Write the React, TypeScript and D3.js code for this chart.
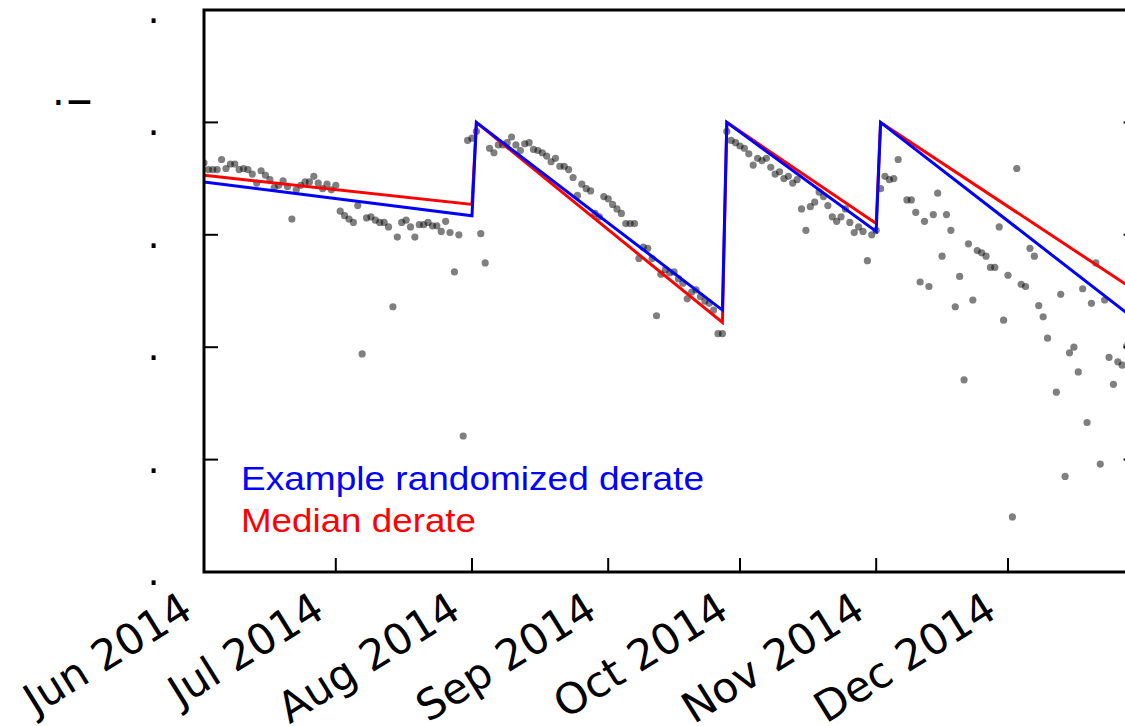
import React from "react";
import * as d3 from "d3";

// ---- data ----
const startDate = new Date(Date.UTC(2014, 5, 1));
const endDate = new Date(Date.UTC(2014, 11, 30, 12));

// daily observations, index = days since 1 Jun 2014 (null = missing)
const observedValues: (number | null)[] = [
  3.64, 3.58, 3.58, 3.58, 3.67, 3.59, 3.63, 3.63, 3.58, 3.59,
  3.58, 3.54, 3.46, 3.57, 3.53, 3.49, 3.42, 3.44, 3.48, 3.43,
  3.14, 3.40, 3.44, 3.47, 3.47, 3.52, 3.46, 3.41, 3.45, 3.40,
  3.44, 3.21, 3.17, 3.14, 3.11, 3.26, 1.94, 3.15, 3.16, 3.13,
  3.11, 3.11, 3.07, 2.36, 2.98, 3.11, 3.13, 3.07, 2.98, 3.09,
  3.09, 3.11, 3.08, 3.08, 3.03, 3.12, 3.02, 2.67, 3.00, 1.21,
  3.84, 3.86, 3.92, 3.01, 2.75, 3.77, 3.73, 3.80, 3.80, 3.82,
  3.87, 3.80, 3.75, 3.81, 3.82, 3.76, 3.75, 3.73, 3.70, 3.65,
  3.68, 3.61, 3.61, 3.58, 3.51, 3.35, 3.45, 3.41, 3.39, 3.19,
  3.16, 3.34, 3.32, 3.27, 3.23, 3.19, 3.10, 3.10, 3.10, 2.79,
  2.89, 2.88, 2.79, 2.28, 2.65, 2.69, 2.66, 2.67, 2.61, 2.57,
  2.43, 2.49, 2.51, 2.45, 2.41, 2.39, 2.33, 2.12, 2.12, 3.92,
  3.84, 3.82, 3.79, 3.77, 3.72, 3.62, 3.68, 3.66, 3.68, 3.60,
  3.54, 3.56, 3.50, 3.52, 3.46, 3.49, 3.23, 3.04, 3.25, 3.29,
  3.38, 3.34, 3.26, 3.16, 3.12, 3.16, 3.23, 3.11, 3.02, 3.07,
  3.03, 2.77, 3.00, 3.04, 3.41, 3.52, 3.49, 3.50, 3.67, null,
  3.31, 3.31, 3.20, 2.58, 3.12, 2.54, 3.18, 3.37, 2.81, 3.18,
  3.04, 2.36, 2.63, 1.71, 2.92, 2.42, 2.86, 2.84, 2.81, 2.71,
  2.71, 3.07, 2.24, 2.64, 0.49, 3.59, 2.56, 2.54, 2.88, 2.81,
  2.37, 2.27, 2.08, null, 1.60, 2.47, 0.85, 1.95, 2.00, 1.78,
  2.52, 1.33, 2.39, 2.75, 0.96, 2.42, 1.91, 1.67, 1.87, 1.84,
  2.01,
];

// derate curves: breakpoints in days since 1 Jun 2014
const derateDays = [0, 61, 62, 118, 119, 153, 154, 212.5];
const medianDerate = [3.53, 3.27, 4.0, 2.22, 4.0, 3.10, 4.0, 2.49];
const exampleDerate = [3.47, 3.17, 4.0, 2.33, 4.0, 3.03, 4.0, 2.23];

const monthTicks = ["2014-06-01", "2014-07-01", "2014-08-01", "2014-09-01", "2014-10-01", "2014-11-01", "2014-12-01"];
const yTickValues = [0, 1, 2, 3, 4, 5];
const yTickLabel = ".";
const legendLabels = ["Example randomized derate", "Median derate"];
const legendColors = ["#0000ff", "#ff0000"];

const DAY = 86400000;
const dayToDate = (d: number) => new Date(startDate.getTime() + d * DAY);

export default function App() {
  const W = 1125, H = 726;
  const left = 204, right = 1137.6, top = 10, bottom = 572;
  const x = d3.scaleUtc().domain([startDate, endDate]).range([left, right]);
  const y = d3.scaleLinear().domain([0, 5]).range([bottom, top]);
  const fmt = d3.utcFormat("%b %Y");
  const parse = d3.utcParse("%Y-%m-%d");

  const line = d3
    .line<[number, number]>()
    .x((p) => x(dayToDate(p[0])))
    .y((p) => y(p[1]));
  const medianPath = line(derateDays.map((d, i) => [d, medianDerate[i]] as [number, number])) || "";
  const examplePath = line(derateDays.map((d, i) => [d, exampleDerate[i]] as [number, number])) || "";

  const pts = observedValues
    .map((v, i) => ({ d: i, v }))
    .filter((p) => p.v !== null) as { d: number; v: number }[];

  const tickLen = 14;

  return (
    <svg
      width={W}
      height={H}
      style={{ position: "absolute", left: 0, top: 0, background: "#fff", display: "block" }}
    >
      <defs>
        <clipPath id="plot">
          <rect x={left} y={top} width={right - left} height={bottom - top} />
        </clipPath>
      </defs>
      <rect x={0} y={0} width={W} height={H} fill="#fff" />
      <g clipPath="url(#plot)">
        {pts.map((p, i) => (
          <circle key={i} cx={x(dayToDate(p.d))} cy={y(p.v)} r={3.6} fill="#000" fillOpacity={0.5} />
        ))}
        <path d={medianPath} fill="none" stroke="#ff0000" strokeWidth={3} strokeLinejoin="miter" />
        <path d={examplePath} fill="none" stroke="#0000ff" strokeWidth={3} strokeLinejoin="miter" />
      </g>

      {/* ticks */}
      {yTickValues.map((t) => (
        <g key={"yt" + t}>
          <line x1={left} x2={left + tickLen} y1={y(t)} y2={y(t)} stroke="#000" strokeWidth={2} />
          <line x1={right} x2={right - tickLen} y1={y(t)} y2={y(t)} stroke="#000" strokeWidth={2} />
          <text x={147.4} y={y(t) + 13} fontFamily="DejaVu Sans" fontSize={38} fill="#000">
            {yTickLabel}
          </text>
        </g>
      ))}
      {monthTicks.map((s) => {
        const dt = parse(s)!;
        const tx = x(dt);
        return (
          <g key={s}>
            <line x1={tx} x2={tx} y1={bottom} y2={bottom - tickLen} stroke="#000" strokeWidth={2} />
            <text
              transform={`translate(${tx - 9},616) rotate(-32)`}
              textAnchor="end"
              fontFamily="DejaVu Sans"
              fontSize={42.5}
              fill="#000"
            >
              {fmt(dt)}
            </text>
          </g>
        );
      })}

      {/* spines */}
      <rect x={left} y={top} width={right - left} height={bottom - top} fill="none" stroke="#000" strokeWidth={3} />

      {/* y-axis label */}
      <text x={52} y={105} fontFamily="DejaVu Sans" fontSize={40} fill="#000">.</text>
      <text x={66} y={117} fontFamily="DejaVu Sans" fontSize={54} fill="#000">–</text>

      {/* legend */}
      {legendLabels.map((lab, i) => (
        <text
          key={lab}
          x={241}
          y={490 + i * 41.5}
          fontFamily="Liberation Sans"
          fontSize={34}
          fill={legendColors[i]}
          textLength={i === 0 ? 463 : 235}
          lengthAdjust="spacingAndGlyphs"
        >
          {lab}
        </text>
      ))}
    </svg>
  );
}
